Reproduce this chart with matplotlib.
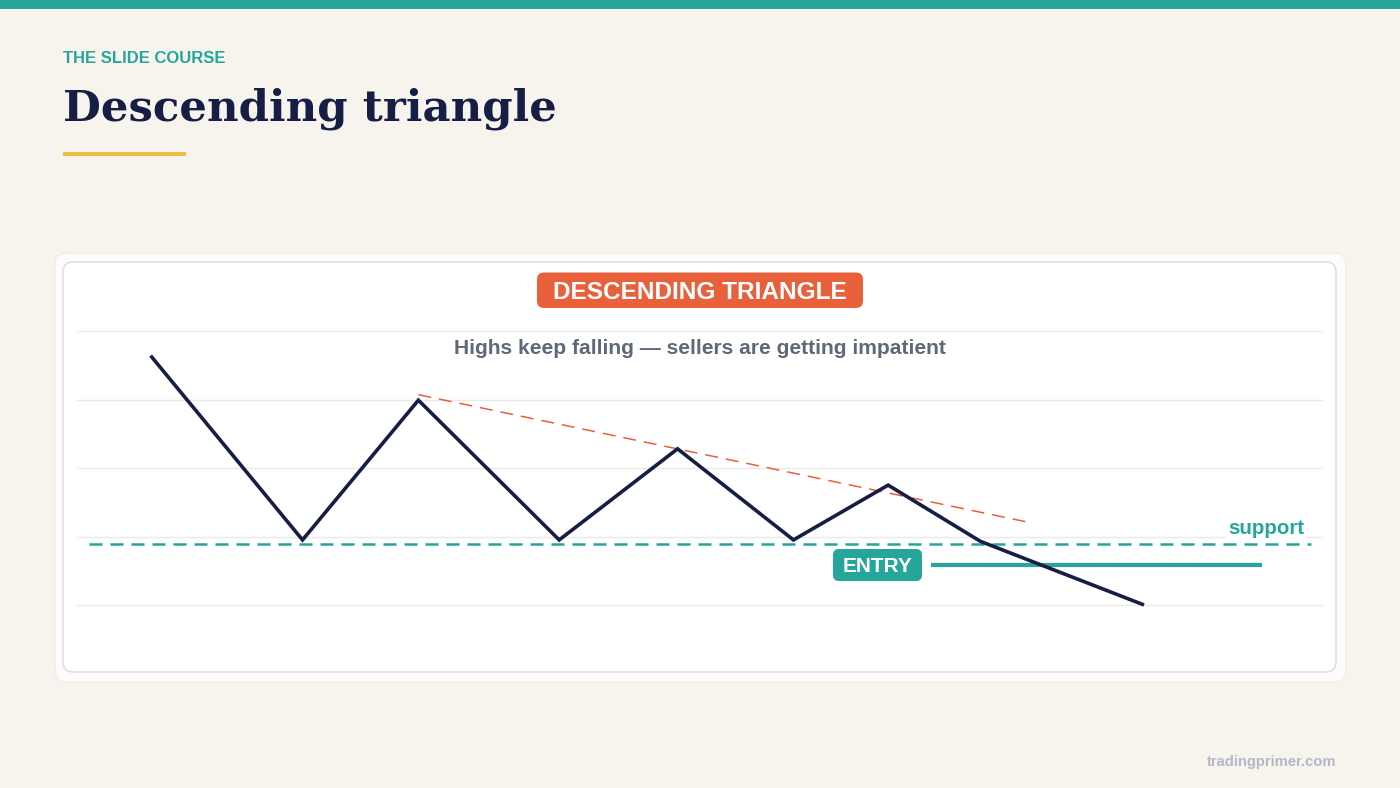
import matplotlib
matplotlib.use("Agg")
import matplotlib.pyplot as plt
from matplotlib.patches import FancyBboxPatch, Rectangle

# price path (x = time position 0-100, y = price level)
price_x = [6.0, 18.1, 27.4, 38.7, 48.2, 57.5, 65.1, 72.5, 85.5]
price_y = [4.62, 1.95, 3.99, 1.95, 3.28, 1.95, 2.75, 1.93, 1.01]

# falling resistance through the lower highs
res_x = [27.4, 76.3]
res_y = [4.07, 2.21]

# flat support
support_x = [1.0, 99.0]
support_level = 1.89

# entry line
entry_x = [68.5, 95.1]
entry_level = 1.58

grid_levels = [1, 2, 3, 4, 5]

BG = "#F7F4EE"
TEAL = "#26A69A"
NAVY = "#161E45"
RED = "#E8603C"
SANS = ["Liberation Sans", "DejaVu Sans"]

fig = plt.figure(figsize=(14, 7.88), dpi=100)
fig.patch.set_facecolor(BG)

# decoration layer in pixel units
deco = fig.add_axes([0, 0, 1, 1])
deco.set_xlim(0, 1400)
deco.set_ylim(788, 0)
deco.axis("off")

deco.add_patch(Rectangle((0, 0), 1400, 9, facecolor=TEAL, edgecolor="none"))
deco.text(63, 58.5, "THE SLIDE COURSE", color=TEAL, fontsize=12, fontweight="bold",
          family=SANS, va="center", ha="left")
deco.text(63, 109, "Descending triangle", color=NAVY, fontsize=31.3, fontweight="bold",
          family="DejaVu Serif", va="center", ha="left")
deco.add_patch(Rectangle((63, 151.5), 123, 4, facecolor="#F0BE48", edgecolor="none"))

# card
deco.add_patch(FancyBboxPatch((55, 253), 1291, 429, boxstyle="round,pad=0,rounding_size=12",
                              facecolor="#FDFCFA", edgecolor="#F0EEE8", lw=1))
deco.add_patch(FancyBboxPatch((63, 262), 1273, 410, boxstyle="round,pad=0,rounding_size=10",
                              facecolor="white", edgecolor="#DCDCDC", lw=1))

# title badge
deco.add_patch(FancyBboxPatch((537, 272.5), 326, 35.5, boxstyle="round,pad=0,rounding_size=7",
                              facecolor=RED, edgecolor="none", zorder=5))
deco.text(700, 292.5, "DESCENDING TRIANGLE", color="white", fontsize=17.6, fontweight="bold",
          family=SANS, ha="center", va="center", zorder=6)

# entry badge
deco.add_patch(FancyBboxPatch((833, 549), 89, 32, boxstyle="round,pad=0,rounding_size=6",
                              facecolor=TEAL, edgecolor="none", zorder=5))
deco.text(877.5, 567, "ENTRY", color="white", fontsize=15, fontweight="bold",
          family=SANS, ha="center", va="center", zorder=6)

deco.text(1336, 762, "tradingprimer.com", color="#B4B7C6", fontsize=10.6, fontweight="bold",
          family=SANS, va="center", ha="right")

# chart
ax = fig.add_axes([77 / 1400, (788 - 673.5) / 788, 1246 / 1400, 411 / 788])
ax.set_xlim(0, 100)
ax.set_ylim(0, 6)
ax.axis("off")
ax.patch.set_alpha(0)

for g in grid_levels:
    ax.axhline(g, color="#EAEAEA", lw=1, zorder=1)

ax.plot(support_x, [support_level] * 2, color=TEAL, lw=1.8, dashes=(5.2, 3.2), zorder=2)
ax.plot(res_x, res_y, color=RED, lw=1.1, dashes=(8.5, 5.2), zorder=2)
ax.plot(entry_x, [entry_level] * 2, color=TEAL, lw=3, solid_capstyle="butt", zorder=2)
ax.plot(price_x, price_y, color=NAVY, lw=2.6, solid_joinstyle="miter", zorder=3)

ax.text(98.5, 2.12, "support", color=TEAL, fontsize=14.8, fontweight="bold", family=SANS,
        ha="right", va="center", zorder=4,
        bbox=dict(boxstyle="square,pad=0.1", facecolor="white", edgecolor="none"))

ax.text(50, 4.74, "Highs keep falling \u2014 sellers are getting impatient", color="#5E6878",
        fontsize=15.1, fontweight="bold", family=SANS, ha="center", va="center", zorder=4)

fig.savefig("out.png", dpi=100, facecolor=BG)
